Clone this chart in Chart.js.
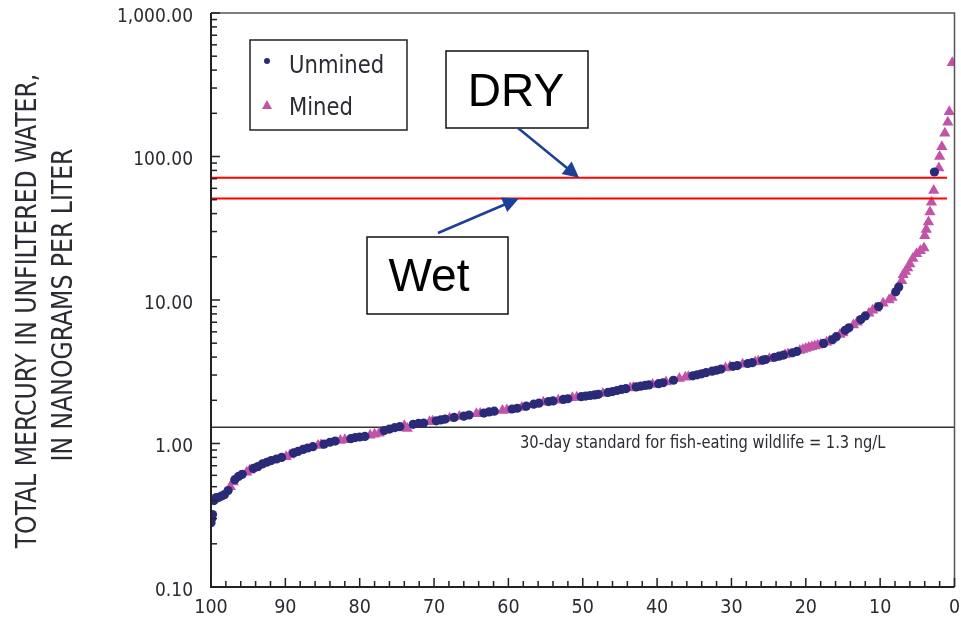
<!DOCTYPE html>
<html>
<head>
<meta charset="utf-8">
<script src="https://cdn.jsdelivr.net/npm/chart.js@4.4.1/dist/chart.umd.min.js"></script>
<style>
  html, body { margin: 0; padding: 0; background: #fff; }
  #wrap { width: 961px; height: 621px; }
</style>
</head>
<body>
<div id="wrap"><canvas id="chart"></canvas></div>
<script>
// percent of time exceeded (x) and total mercury, ng/L (y)
const unminedX = [100, 99.9, 99.8, 99.6, 99.3, 99.0, 98.6, 98.2, 97.7, 96.8, 96.3, 95.8, 94.3, 93.7, 93.1, 92.5,
  91.9, 91.2, 90.5, 88.9, 88.3, 87.6, 87.0, 86.3, 84.8, 84.0, 83.3, 81.2, 80.6, 80.0, 79.3, 76.7,
  76.0, 75.3, 74.6, 72.8, 72.1, 71.4, 69.7, 69.1, 68.5, 67.3, 66.0, 65.3, 63.3, 62.6, 61.9, 59.5,
  58.8, 57.6, 56.6, 55.9, 54.6, 54.0, 52.6, 52.0, 50.2, 49.6, 49.0, 48.4, 47.9, 46.6, 46.0, 45.4,
  44.8, 44.2, 42.8, 42.2, 41.6, 41.1, 39.8, 39.2, 37.8, 35.2, 34.6, 34.0, 33.4, 32.6, 32.0, 31.4,
  29.8, 29.2, 27.8, 27.2, 25.8, 25.4, 24.2, 23.6, 23.0, 21.8, 21.2, 17.6, 16.4, 15.9, 14.7, 14.2,
  12.6, 12.0, 10.2, 7.9, 7.5, 2.7];
const unminedY = [0.28, 0.30, 0.32, 0.40, 0.42, 0.42, 0.43, 0.44, 0.47, 0.56, 0.59, 0.61, 0.67, 0.69, 0.72, 0.74,
  0.76, 0.78, 0.80, 0.86, 0.88, 0.91, 0.93, 0.95, 0.99, 1.02, 1.04, 1.08, 1.10, 1.11, 1.12, 1.23,
  1.26, 1.29, 1.31, 1.36, 1.38, 1.39, 1.44, 1.46, 1.48, 1.52, 1.55, 1.58, 1.63, 1.66, 1.68, 1.74,
  1.76, 1.82, 1.88, 1.91, 1.96, 1.98, 2.03, 2.05, 2.12, 2.14, 2.16, 2.18, 2.20, 2.27, 2.30, 2.34,
  2.38, 2.41, 2.48, 2.51, 2.54, 2.56, 2.61, 2.65, 2.76, 2.96, 3.01, 3.06, 3.12, 3.19, 3.24, 3.30,
  3.45, 3.49, 3.61, 3.66, 3.81, 3.85, 3.99, 4.06, 4.13, 4.29, 4.38, 4.98, 5.30, 5.55, 6.15, 6.40,
  7.30, 7.75, 9.00, 11.4, 12.3, 78];

const minedX = [97.4, 97.0, 95.2, 94.8, 89.9, 89.4, 85.6, 85.2, 82.6, 82.0, 78.6, 78.0, 77.4, 74.0, 73.6, 70.6,
  70.2, 67.9, 66.6, 64.3, 63.8, 60.8, 60.2, 58.2, 55.3, 53.3, 51.4, 50.8, 47.3, 43.6, 43.2, 40.6,
  38.8, 37.0, 36.2, 35.8, 30.8, 30.2, 28.5, 26.8, 26.4, 24.9, 22.8, 22.4, 20.8, 20.4, 20.0, 19.6,
  19.2, 18.8, 18.4, 18.0, 17.2, 16.8, 15.4, 15.0, 13.6, 13.1, 11.5, 11.0, 10.6, 9.6, 8.8, 8.4,
  7.1, 6.9, 6.6, 6.3, 6.0, 5.6, 5.1, 4.6, 4.1, 4.0, 3.8, 3.5, 3.3, 3.1, 2.8, 2.1,
  2.0, 1.7, 1.3, 0.9, 0.7, 0.3];
const minedY = [0.50, 0.54, 0.63, 0.65, 0.81, 0.83, 0.97, 0.98, 1.05, 1.06, 1.14, 1.16, 1.18, 1.33, 1.27, 1.42,
  1.43, 1.50, 1.54, 1.61, 1.62, 1.70, 1.71, 1.78, 1.94, 2.00, 2.08, 2.10, 2.23, 2.44, 2.46, 2.58,
  2.68, 2.84, 2.89, 2.92, 3.36, 3.42, 3.56, 3.70, 3.74, 3.90, 4.16, 4.21, 4.45, 4.52, 4.60, 4.66,
  4.72, 4.78, 4.84, 4.90, 5.08, 5.17, 5.75, 5.90, 6.70, 7.00, 8.10, 8.50, 8.75, 9.50, 10.0, 10.4,
  13.6, 15.0, 15.8, 16.7, 17.8, 19.5, 21.0, 22.0, 23.0, 28.0, 31.0, 35.0, 41.0, 48.0, 58.0, 83.0,
  100, 117, 145, 173, 205, 450];

const yMajorTicks = [0.1, 1, 10, 100, 1000];
const xTickLabels = [100, 90, 80, 70, 60, 50, 40, 30, 20, 10, 0];

const standardLevel = 1.3;   // 30-day standard
const dryLevel = 71;
const wetLevel = 51;
const redLineEnd = 1;        // red lines stop just short of 0 on x

const narrow = "'Liberation Sans Narrow', 'DejaVu Sans Condensed', sans-serif";
const textColor = '#2b2b33';
const unminedColor = '#2a2a78';
const minedColor = '#c254a8';

// every 1..9 multiple per decade for the log ticks
const yTickValues = [];
for (let i = 0; i < yMajorTicks.length - 1; i++) {
  for (let k = 1; k < 10; k++) yTickValues.push(yMajorTicks[i] * k);
}
yTickValues.push(yMajorTicks[yMajorTicks.length - 1]);

const xTickValues = [];
for (let v = 0; v <= 100; v += 2) xTickValues.push(v);

// condensed text: squeeze along the baseline
function squeezed(ctx, text, x, y, sx, rot) {
  ctx.save();
  ctx.translate(x, y);
  if (rot) ctx.rotate(rot);
  ctx.scale(sx, 1);
  ctx.fillText(text, 0, 0);
  ctx.restore();
}

function arrow(ctx, x1, y1, x2, y2) {
  const ang = Math.atan2(y2 - y1, x2 - x1);
  const L = 16, W = 8;
  ctx.beginPath();
  ctx.moveTo(x1, y1);
  ctx.lineTo(x2 - Math.cos(ang) * L * 0.8, y2 - Math.sin(ang) * L * 0.8);
  ctx.stroke();
  ctx.beginPath();
  ctx.moveTo(x2, y2);
  ctx.lineTo(x2 - Math.cos(ang) * L + Math.sin(ang) * W, y2 - Math.sin(ang) * L - Math.cos(ang) * W);
  ctx.lineTo(x2 - Math.cos(ang) * L - Math.sin(ang) * W, y2 - Math.sin(ang) * L + Math.cos(ang) * W);
  ctx.closePath();
  ctx.fill();
}

const overlay = {
  id: 'overlay',
  beforeDatasetsDraw(chart) {
    const { ctx, chartArea: a, scales: { y } } = chart;
    ctx.save();
    // 30-day standard line
    const ys = y.getPixelForValue(standardLevel);
    ctx.strokeStyle = '#333';
    ctx.lineWidth = 1.5;
    ctx.beginPath();
    ctx.moveTo(a.left, ys);
    ctx.lineTo(a.right, ys);
    ctx.stroke();
    ctx.fillStyle = textColor;
    ctx.font = '18px ' + narrow;
    ctx.textAlign = 'left';
    ctx.textBaseline = 'middle';
    squeezed(ctx, '30-day standard for fish-eating wildlife = 1.3 ng/L', 520, ys + 16, 0.905);
    ctx.restore();
  },
  afterDatasetsDraw(chart) {
    const { ctx, chartArea: a, scales: { x, y } } = chart;
    ctx.save();

    // dry / wet red lines
    ctx.strokeStyle = '#ff0000';
    ctx.lineWidth = 2;
    [dryLevel, wetLevel].forEach(v => {
      const py = y.getPixelForValue(v);
      ctx.beginPath();
      ctx.moveTo(a.left, py);
      ctx.lineTo(x.getPixelForValue(redLineEnd), py);
      ctx.stroke();
    });

    // frame
    ctx.strokeStyle = '#555';
    ctx.lineWidth = 1.5;
    ctx.beginPath();
    ctx.moveTo(a.left, a.top);
    ctx.lineTo(a.right, a.top);
    ctx.lineTo(a.right, a.bottom);
    ctx.stroke();
    ctx.strokeStyle = '#222';
    ctx.lineWidth = 2;
    ctx.beginPath();
    ctx.moveTo(a.left, a.top);
    ctx.lineTo(a.left, a.bottom);
    ctx.lineTo(a.right, a.bottom);
    ctx.stroke();

    // inward tick marks
    ctx.lineWidth = 1.5;
    yTickValues.forEach(v => {
      const py = y.getPixelForValue(v);
      const len = yMajorTicks.includes(v) ? 9 : 6;
      ctx.beginPath();
      ctx.moveTo(a.left, py);
      ctx.lineTo(a.left + len, py);
      ctx.stroke();
    });
    xTickValues.forEach(v => {
      const px = x.getPixelForValue(v);
      const len = v % 10 === 0 ? 9 : 6;
      ctx.beginPath();
      ctx.moveTo(px, a.bottom);
      ctx.lineTo(px, a.bottom - len);
      ctx.stroke();
    });

    // y axis title
    ctx.fillStyle = textColor;
    ctx.font = '28px ' + narrow;
    ctx.textAlign = 'center';
    ctx.textBaseline = 'middle';
    squeezed(ctx, 'TOTAL MERCURY IN UNFILTERED WATER,', 29, 311, 0.935, -Math.PI / 2);
    squeezed(ctx, 'IN NANOGRAMS PER LITER', 65, 305, 0.935, -Math.PI / 2);

    // legend
    ctx.strokeStyle = '#222';
    ctx.lineWidth = 1.5;
    ctx.strokeRect(250, 40, 157, 90);
    ctx.fillStyle = unminedColor;
    ctx.beginPath();
    ctx.arc(267, 61, 3, 0, Math.PI * 2);
    ctx.fill();
    ctx.fillStyle = minedColor;
    ctx.beginPath();
    ctx.moveTo(267, 100);
    ctx.lineTo(272, 109);
    ctx.lineTo(262, 109);
    ctx.closePath();
    ctx.fill();
    ctx.fillStyle = textColor;
    ctx.font = '25px ' + narrow;
    ctx.textAlign = 'left';
    ctx.textBaseline = 'alphabetic';
    squeezed(ctx, 'Unmined', 289, 73, 0.94);
    squeezed(ctx, 'Mined', 289, 115, 0.94);

    // DRY / Wet callouts
    ctx.strokeStyle = '#111';
    ctx.lineWidth = 1.5;
    ctx.strokeRect(446, 51, 142, 77);
    ctx.strokeRect(367, 237, 141, 77);
    ctx.fillStyle = '#000';
    ctx.font = '46px "Liberation Sans", Arial, sans-serif';
    ctx.textAlign = 'center';
    ctx.textBaseline = 'middle';
    ctx.fillText('DRY', 516, 93);
    ctx.fillText('Wet', 429, 278);

    ctx.strokeStyle = '#1c3f97';
    ctx.fillStyle = '#1c3f97';
    ctx.lineWidth = 2.5;
    arrow(ctx, 518, 128, x.getPixelForValue(50.5), y.getPixelForValue(dryLevel));
    arrow(ctx, 438, 233, x.getPixelForValue(58.6), y.getPixelForValue(wetLevel));

    ctx.restore();
  }
};

new Chart(document.getElementById('chart'), {
  type: 'scatter',
  data: {
    datasets: [
      {
        label: 'Unmined',
        data: unminedX.map((v, i) => ({ x: v, y: unminedY[i] })),
        pointStyle: 'circle',
        pointRadius: 4.6,
        pointBorderWidth: 0,
        backgroundColor: unminedColor
      },
      {
        label: 'Mined',
        data: minedX.map((v, i) => ({ x: v, y: minedY[i] })),
        pointStyle: 'triangle',
        pointRadius: 6.5,
        pointBorderWidth: 0,
        backgroundColor: minedColor
      }
    ]
  },
  options: {
    responsive: true,
    maintainAspectRatio: false,
    animation: false,
    layout: { padding: { top: 13, right: 3, left: 0, bottom: 0 } },
    plugins: { legend: { display: false }, tooltip: { enabled: false }, title: { display: false } },
    scales: {
      x: {
        type: 'linear',
        reverse: true,
        min: 0,
        max: 100,
        afterBuildTicks: s => { s.ticks = xTickValues.map(v => ({ value: v })); },
        afterFit: s => { s.height = 34; s.paddingLeft = 0; s.paddingRight = 0; },
        grid: { display: false, drawTicks: false },
        border: { display: false },
        ticks: {
          autoSkip: false,
          maxRotation: 0,
          padding: 9,
          color: textColor,
          font: { family: narrow, size: 19.5 },
          callback: v => (xTickLabels.includes(v) ? String(v) : '')
        }
      },
      y: {
        type: 'logarithmic',
        min: 0.1,
        max: 1000,
        afterBuildTicks: s => { s.ticks = yTickValues.map(v => ({ value: v })); },
        afterFit: s => { s.width = 211; s.paddingTop = 0; s.paddingBottom = 0; },
        grid: { display: false, drawTicks: false },
        border: { display: false },
        ticks: {
          autoSkip: false,
          padding: 18,
          labelOffset: 4,
          color: textColor,
          font: { family: narrow, size: 19 },
          callback: v => (yMajorTicks.includes(v)
            ? v.toLocaleString('en-US', { minimumFractionDigits: 2, maximumFractionDigits: 2 })
            : '')
        }
      }
    }
  },
  plugins: [overlay]
});
</script>
</body>
</html>
